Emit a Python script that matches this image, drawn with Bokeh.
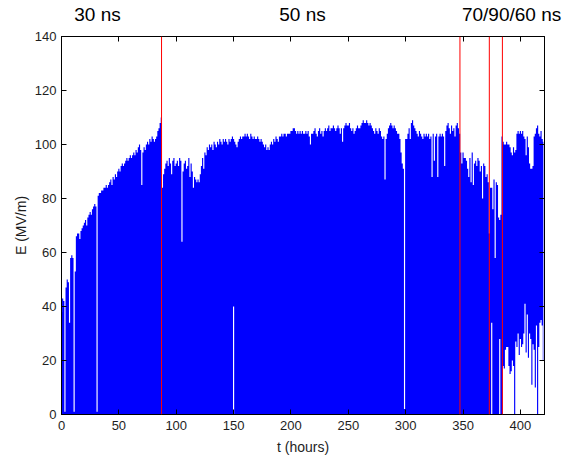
from bokeh.plotting import figure
from bokeh.models import Span, LinearAxis, FixedTicker, Range1d, ColumnDataSource
from bokeh.embed import file_html
from bokeh.resources import INLINE
import numpy as np

# ---- data ----
hours = list(range(421))
E_top = [
    38, 43, 42, 1, 47, 50, 49, 34, 58, 59,
    58, 1, 53, 66, 67, 67, 65, 68, 69, 70,
    71, 72, 70, 73, 74, 75, 74, 76, 77, 78,
    77, 1, 81, 82, 82, 83, 83, 84, 84, 85,
    84, 85, 86, 87, 85, 88, 87, 89, 88, 90,
    91, 90, 92, 93, 92, 93, 94, 95, 94, 95,
    96, 95, 96, 97, 96, 98, 97, 99, 100, 98,
    85, 97, 99, 98, 100, 101, 100, 102, 101, 103,
    102, 101, 102, 103, 105, 106, 108, 110, 84, 89,
    91, 93, 94, 92, 95, 93, 89, 94, 95, 92,
    93, 94, 92, 95, 94, 64, 90, 93, 94, 91,
    92, 95, 88, 93, 90, 84, 88, 87, 86, 87,
    86, 89, 92, 95, 91, 97, 96, 99, 98, 100,
    99, 100, 98, 101, 100, 99, 101, 100, 102, 101,
    100, 102, 101, 102, 101, 100, 102, 101, 102, 103,
    102, 101, 100, 99, 101, 102, 103, 102, 103, 103,
    104, 103, 104, 103, 102, 104, 103, 102, 103, 102,
    102, 103, 102, 101, 102, 101, 100, 99, 100, 98,
    99, 98, 100, 101, 100, 102, 101, 103, 102, 101,
    103, 103, 104, 103, 104, 104, 103, 104, 104, 104,
    105, 105, 106, 106, 105, 104, 105, 104, 105, 104,
    105, 104, 104, 105, 104, 105, 103, 100, 104, 104,
    105, 106, 104, 103, 105, 106, 104, 105, 103, 105,
    106, 105, 106, 107, 105, 106, 106, 107, 106, 105,
    106, 107, 106, 104, 106, 101, 106, 107, 108, 107,
    107, 108, 106, 105, 106, 104, 105, 106, 107, 106,
    106, 107, 108, 109, 108, 108, 109, 108, 107, 108,
    107, 106, 105, 104, 106, 105, 104, 106, 105, 103,
    102, 103, 87, 102, 104, 106, 107, 108, 107, 106,
    107, 106, 105, 104, 104, 102, 97, 93, 91, 2,
    102, 102, 104, 106, 102, 108, 109, 107, 106, 105,
    104, 103, 105, 104, 103, 102, 104, 103, 104, 103,
    104, 102, 103, 88, 104, 94, 103, 104, 88, 103,
    104, 103, 104, 103, 92, 105, 107, 108, 106, 104,
    107, 105, 106, 103, 107, 108, 106, 104, 97, 93,
    97, 95, 95, 94, 91, 88, 95, 86, 97, 85,
    93, 94, 92, 95, 94, 90, 92, 80, 93, 92,
    88, 89, 86, 67, 84, 84, 76, 87, 58, 86,
    85, 73, 72, 74, 103, 101, 100, 100, 101, 100,
    100, 99, 97, 96, 99, 97, 98, 104, 105, 104,
    105, 104, 105, 103, 102, 96, 103, 99, 93, 91,
    91, 92, 103, 104, 106, 107, 104, 103, 105, 102, 101,
]
# hours where the trace does not reach down to zero, and its lowest value there
floor_t = [150, 375, 382,
           385, 386, 387, 388, 389, 390, 391, 392, 393, 394, 395, 396, 397, 398, 399,
           400, 401, 402, 403, 404, 405, 406, 407, 408, 409, 410, 411, 412, 413, 414,
           415, 416, 417, 418, 419, 420]
floor_E = [40, 34, 28,
           18, 17, 24, 25, 25, 18, 15, 16, 20, 18, 0, 27, 25, 30, 22,
           28, 25, 26, 30, 41, 23, 37, 21, 30, 28, 11, 26, 24, 10, 33,
           0, 25, 34, 35, 33, 20]
pulse_change_t = [87.2, 347.3, 372.9, 384.3]
pulse_labels = ["30 ns", "50 ns", "70/90/60 ns"]
pulse_label_t = [31.4, 210.1, 392.3]
x_ticks = [0, 50, 100, 150, 200, 250, 300, 350, 400]
y_ticks = [0, 20, 40, 60, 80, 100, 120, 140]

# ---- build ----
t = np.array(hours, dtype=float)
top = np.array(E_top, dtype=float)
bottom = np.zeros(len(hours))
for ti, ei in zip(floor_t, floor_E):
    bottom[ti] = ei
src = ColumnDataSource(dict(t=t, lo=bottom, hi=top))

FONT = "Liberation Sans"
TXT = "#1e1e1e"

p = figure(width=565, height=457, x_range=Range1d(0, 421), y_range=Range1d(0, 140),
           output_backend="svg", toolbar_location=None,
           min_border_left=61, min_border_right=21, min_border_top=34, min_border_bottom=43)
p.background_fill_color = "white"
p.border_fill_color = "white"
p.outline_line_color = "black"
p.outline_line_width = 1
p.grid.visible = False

p.varea_step(x="t", y1="lo", y2="hi", step_mode="center", source=src,
             fill_color="#0000ff")

for xs in pulse_change_t:
    p.add_layout(Span(location=xs, dimension="height", line_color="#ff0000", line_width=1))


def style(ax, ticks, show_labels=True):
    ax.ticker = FixedTicker(ticks=ticks)
    ax.major_tick_in = 5
    ax.major_tick_out = 0
    ax.minor_tick_line_color = None
    ax.major_tick_line_color = "black"
    ax.axis_line_color = "black"
    ax.major_label_text_font = FONT
    ax.major_label_text_color = TXT
    ax.axis_label_text_font = FONT
    ax.axis_label_text_font_size = "14px"
    ax.axis_label_text_font_style = "normal"
    ax.axis_label_text_color = TXT
    if show_labels:
        ax.major_label_text_font_size = "13px"
    else:
        ax.major_label_text_font_size = "0px"
        ax.major_label_text_color = None
        ax.major_label_standoff = 0


style(p.xaxis[0], x_ticks)
style(p.yaxis[0], y_ticks)
p.xaxis.axis_label = "t (hours)"
p.yaxis.axis_label = "E (MV/m)"
p.xaxis.major_label_standoff = 6
p.xaxis.axis_label_standoff = 6
p.yaxis.major_label_standoff = 5
p.yaxis.axis_label_standoff = 3

top_ax = LinearAxis()
style(top_ax, x_ticks, show_labels=False)
p.add_layout(top_ax, "above")
right_ax = LinearAxis()
style(right_ax, y_ticks, show_labels=False)
p.add_layout(right_ax, "right")

# pulse-length annotations above the frame, carried by a tickless top axis
label_ax = LinearAxis(ticker=FixedTicker(ticks=pulse_label_t),
                      major_label_overrides={lt: lab for lt, lab in zip(pulse_label_t, pulse_labels)})
label_ax.major_tick_line_color = None
label_ax.minor_tick_line_color = None
label_ax.axis_line_color = None
label_ax.major_label_text_font = FONT
label_ax.major_label_text_font_size = "19px"
label_ax.major_label_text_color = "black"
label_ax.major_label_standoff = 6
p.add_layout(label_ax, "above")

open("out.html", "w").write(file_html(p, INLINE))
